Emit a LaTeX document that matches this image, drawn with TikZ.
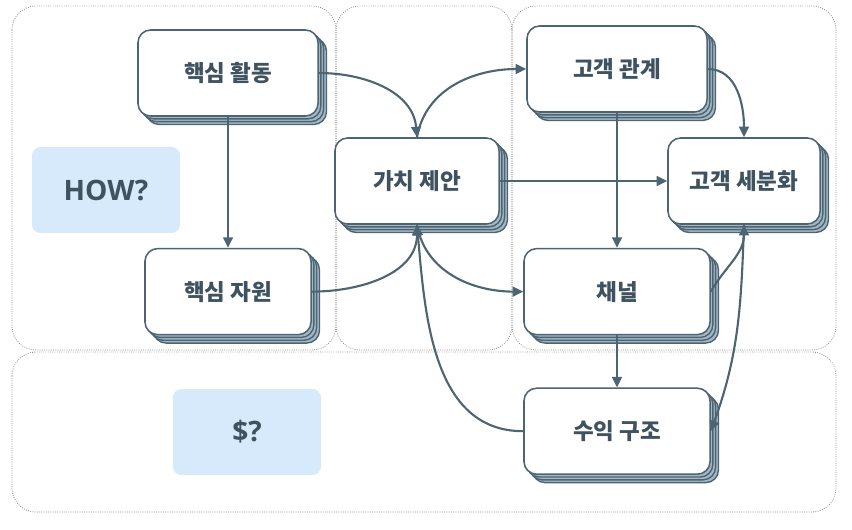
\documentclass[tikz,border=0pt]{standalone}
\usepackage{fontspec}
\usetikzlibrary{arrows.meta, positioning, shadows}
\newfontfamily\krfont{Noto Sans CJK KR}
\newfontfamily\hintfont{Open Sans}
\definecolor{edgeslate}{RGB}{77,100,115}
\definecolor{layerblue}{RGB}{163,184,199}
\definecolor{inkslate}{RGB}{62,82,96}
\definecolor{panelgray}{RGB}{145,145,145}
\definecolor{hintblue}{RGB}{215,234,251}

\begin{document}
\begin{tikzpicture}[
    x=0.025cm, y=-0.025cm,
    every node/.style={font=\krfont\bfseries\fontsize{16}{18}\selectfont, text=inkslate},
    block/.style={rectangle, rounded corners=9pt, minimum width=4.5cm, minimum height=2.15cm,
                  text centered, draw=edgeslate, fill=white, line width=1.1pt,
                  copy shadow={shadow xshift=6pt, shadow yshift=-6pt, draw=edgeslate, fill=layerblue, line width=1pt},
                  copy shadow={shadow xshift=4pt, shadow yshift=-4pt, draw=edgeslate, fill=layerblue, line width=1pt},
                  copy shadow={shadow xshift=2pt, shadow yshift=-2pt, draw=edgeslate, fill=layerblue, line width=1pt}},
    hint/.style={rectangle, rounded corners=6pt, minimum width=3.7cm, minimum height=2.15cm,
                 fill=hintblue, font=\hintfont\bfseries\fontsize{20}{22}\selectfont},
    panel/.style={draw=panelgray, densely dotted, line width=0.6pt, rounded corners=17pt},
    arrow/.style={-{Triangle[length=7.5pt, width=7pt]}, draw=edgeslate, line width=1.5pt}
]
\useasboundingbox (0,0) rectangle (852,529);

% Panels
\draw [panel] (12,6) rectangle (336,350);
\draw [panel] (336,6) rectangle (512,350);
\draw [panel] (512,6) rectangle (836,350);
\draw [panel] (12,352) rectangle (836,512);

% Hints
\node (how) [hint] at (106,190) {HOW?};
\node (money) [hint] at (247,432) {\$?};

% Left side
\node (activity) [block] at (228,73) {핵심 활동};
\node (resource) [block, minimum width=4.15cm, below=3.275cm of activity] {핵심 자원};

% Value
\node (value) [block, minimum width=4.1cm] at (417,181) {가치 제안};

% Right side
\node (relation) [block] at (617,69) {고객 관계};
\node (channel) [block, minimum width=4.65cm, below=3.375cm of relation] {채널};
\node (revenue) [block, minimum width=4.65cm, below=1.3cm of channel] {수익 구조};
\node (segment) [block, minimum width=3.8cm] at (744,181) {고객 세분화};

% Arrows
\draw [arrow] (activity.east) to[out=0, in=95] (value.north);
\draw [arrow] (value.north) to[out=80, in=180] (relation.west);
\draw [arrow] (activity) -- (resource);
\draw [arrow] (resource.east) to[out=0, in=-90] (value.south);
\draw [arrow] (value.south) to[out=-80, in=180] (channel.west);
\draw [arrow] (revenue.west) to[out=180, in=-85] (value.south);
\draw [arrow] (value) -- (segment);

\draw [arrow] (relation) -- (channel);
\draw [arrow] (relation.east) to[out=0, in=90] (segment.north);
\draw [arrow] (channel.east) to[out=60, in=-90] (segment.south);
\draw [arrow] (segment.south) to[out=-92, in=70] (revenue.east);
\draw [arrow] (channel) -- (revenue);

\end{tikzpicture}
\end{document}
